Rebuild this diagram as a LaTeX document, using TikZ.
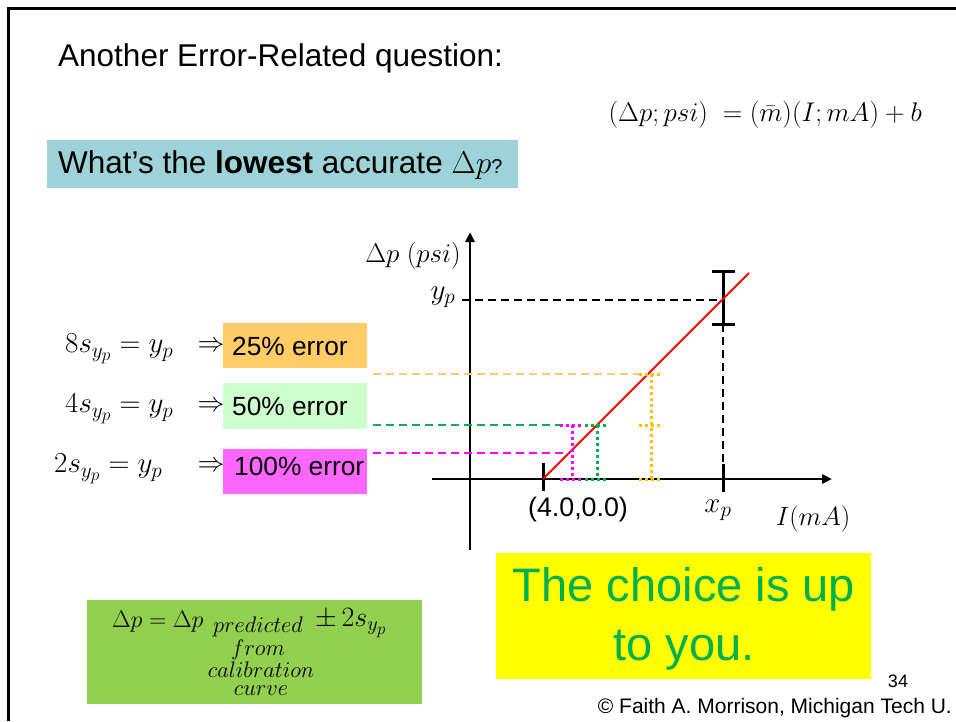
\RequirePackage{fix-cm}
\documentclass[tikz,border=0pt]{standalone}
\usepackage{fontspec}
\setmainfont{Liberation Sans}
\usepackage{amsmath}
\usetikzlibrary{arrows.meta}
\DeclareMathSizes{29}{29}{21.2}{17.4}
\DeclareMathSizes{28}{28}{20.4}{16.8}
\definecolor{tealbox}{HTML}{9DD3D8}
\definecolor{orbox}{HTML}{FFCC66}
\definecolor{ltgreen}{HTML}{CCFFCC}
\definecolor{magbox}{HTML}{FF66FF}
\definecolor{grbox}{HTML}{92D050}
\definecolor{yelbox}{HTML}{FFFF00}
\definecolor{txtgreen}{HTML}{00B050}
\definecolor{ordash}{HTML}{FFC966}
\definecolor{ordot}{HTML}{FFC000}
\definecolor{grdash}{HTML}{00B050}
\definecolor{magdash}{HTML}{FF00FF}
\begin{document}
\begin{tikzpicture}[x=1pt,y=-1pt,
  big/.style={font=\fontsize{31.5}{36}\selectfont, inner sep=0pt, anchor=west},
  mth/.style={font=\fontsize{27}{31}\selectfont, inner sep=0pt},
  lbl/.style={font=\fontsize{29}{33}\selectfont, inner sep=0pt},
  pct/.style={font=\fontsize{26.3}{30}\selectfont, inner sep=0pt, anchor=west},
  axis/.style={line width=2.5pt},
  barline/.style={line width=3pt},
  dashln/.style={line width=1.5pt, dash pattern=on 8pt off 5pt},
  dotln/.style={line width=3pt, dash pattern=on 3pt off 3pt},
  sub/.style={font=\fontsize{22.5}{24}\selectfont, inner sep=0pt}
]
\useasboundingbox (0,0) rectangle (956,721);
% frame
\draw[line width=3pt] (8,721) -- (8,8) -- (956,8);

% title
\node[big] (title) at (58,58) {Another Error-Related question:};
\node[mth, anchor=east] (model) at (922,115) {$(\Delta p; psi)\ =(\bar{m})(I;mA)+b$};

% teal box
\fill[tealbox] (47,140) rectangle (518,188);
\node[big] (q) at (58,165) {What’s the \textbf{lowest} accurate {\fontsize{31.5}{36}\selectfont$\Delta p$}\fontsize{20}{22}\selectfont ?};

% axes
\coordinate (yb) at (470,550);
\coordinate (yt) at (470,232);
\coordinate (xl) at (432,479);
\coordinate (xr) at (832,479);
\draw[axis, -{Triangle[length=10pt,width=9pt]}] (yb) -- (yt);
\draw[axis, -{Triangle[length=10pt,width=9pt]}] (xl) -- (xr);
\node[mth] (ylab) at (413,256) {$\Delta p\ (psi)$};
\node[font=\fontsize{26.5}{30}\selectfont, inner sep=0pt] (xlab) at (813,519) {$I(mA)$};
\node[lbl] (yp) at (443,297) {$y_p$};
\node[lbl] (xp) at (718,510) {$x_p$};
\node[font=\fontsize{26.8}{30}\selectfont, inner sep=0pt] (orig) at (578,510) {(4.0,0.0)};

% ticks
\coordinate (t1a) at (543,463); \coordinate (t1b) at (543,491);
\coordinate (t2a) at (723,464); \coordinate (t2b) at (723,492);
\draw[barline] (t1a) -- (t1b);
\draw[barline] (t2a) -- (t2b);

% yp dashed and error bar
\coordinate (ypl) at (462,300);
\coordinate (ypr) at (723,300);
\coordinate (ebt) at (723,271);
\coordinate (ebb) at (723,324);
\draw[dashln] (ypl) -- (ypr);
\draw[dashln] (ebb) -- (t2a);
\draw[barline] (ebt) -- (ebb);
\draw[barline] (712,271) -- (735,271);
\draw[barline] (712,324) -- (735,324);

% calibration line
\coordinate (rl0) at (543,479);
\coordinate (rl1) at (749,273);
\draw[red, line width=2pt] (rl0) -- (rl1);

% orange
\coordinate (oL) at (373,374); \coordinate (oR) at (648,374);
\draw[ordash, dashln] (oL) -- (oR);
\coordinate (oT) at (651,374); \coordinate (oB) at (651,479);
\draw[ordot, dotln] (oT) -- (oB);
\draw[ordot, dotln] (639,374) -- (662,374);
\draw[ordot, dotln] (639,425) -- (662,425);
\draw[ordot, dotln] (639,479) -- (662,479);

% green
\coordinate (gL) at (373,425); \coordinate (gR) at (566,425);
\draw[grdash, dashln] (gL) -- (gR);
\coordinate (gT) at (597,425); \coordinate (gB) at (597,479);
\draw[grdash, dotln] (gT) -- (gB);
\draw[grdash, dotln] (585,425) -- (607,425);
\draw[grdash, dotln] (585,479) -- (607,479);

% magenta
\coordinate (mL) at (373,453); \coordinate (mR) at (569,453);
\draw[magdash, dashln] (mL) -- (mR);
\coordinate (mT) at (572,425); \coordinate (mB) at (572,479);
\draw[magdash, dotln] (mT) -- (mB);
\draw[magdash, dotln] (560,425) -- (582,425);
\draw[magdash, dotln] (560,479) -- (582,479);

% left labels
\fill[orbox] (223,323) rectangle (367,368);
\fill[ltgreen] (223,383) rectangle (367,429);
\fill[magbox] (223,449) rectangle (367,494);
\node[lbl, anchor=west] (e8) at (65,349) {$8s_{y_p}=y_p$};
\node[lbl, anchor=west] (e4) at (65,409) {$4s_{y_p}=y_p$};
\node[lbl, anchor=west] (e2) at (54,469) {$2s_{y_p}=y_p$};
\node[mth] (a8) at (211,347) {$\Rightarrow$};
\node[mth] (a4) at (211,407) {$\Rightarrow$};
\node[mth] (a2) at (211,467) {$\Rightarrow$};
\node[pct] (p25) at (232,346) {25\% error};
\node[pct] (p50) at (232,406) {50\% error};
\node[pct] (p100) at (234,466) {100\% error};

% bottom left formula box
\fill[grbox] (87,600) rectangle (422,704);
\node[font=\fontsize{24}{28}\selectfont, inner sep=0pt, anchor=west] (f1) at (112,622) {$\Delta p=\Delta p$};
\node[sub] (f2) at (258,627) {$predicted$};
\node[sub] (f3) at (258,650) {$from$};
\node[sub] (f4) at (261,670) {$calibration$};
\node[sub] (f5) at (261,691) {$curve$};
\node[font=\fontsize{28}{31}\selectfont, inner sep=0pt, anchor=west] (f6) at (315,623) {$\pm\,2s_{y_p}$};

% yellow box
\fill[yelbox] (496,553) rectangle (871,679);
\node[font=\fontsize{47}{59}\selectfont, text=txtgreen, inner sep=0pt, align=center] (choice) at (684,619) {The choice is up\\to you.};

% footer
\node[font=\fontsize{18}{21}\selectfont, inner sep=0pt] (pg) at (898,681) {34};
\node[font=\fontsize{21}{24}\selectfont, inner sep=0pt, anchor=east] (copy) at (952,708) {© Faith A. Morrison, Michigan Tech U.};
\end{tikzpicture}
\end{document}
